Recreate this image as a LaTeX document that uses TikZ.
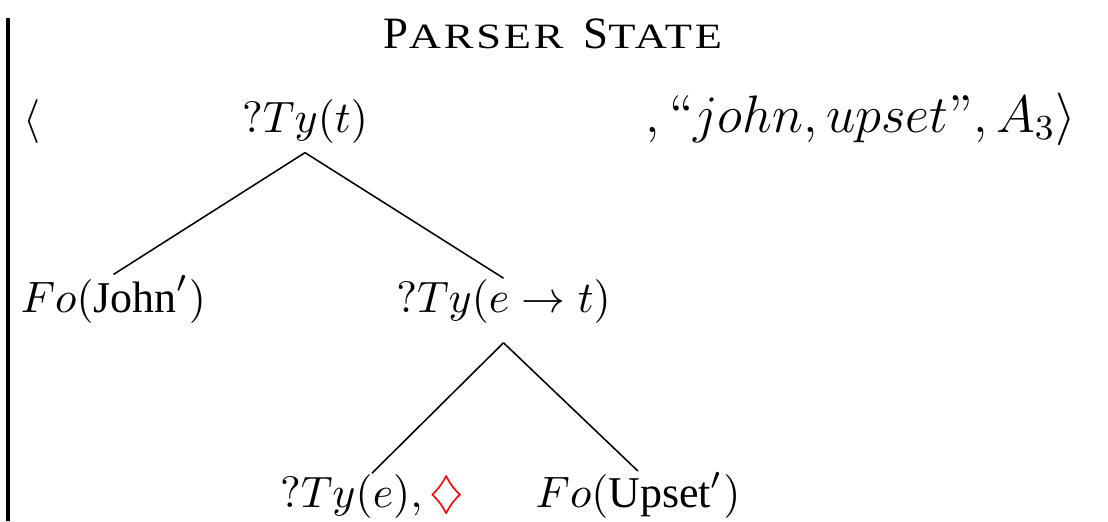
\documentclass[tikz,border=0pt]{standalone}
\usepackage[no-math]{fontspec}
\setmainfont{Liberation Serif}
\newfontfamily\tmsfont{Liberation Serif}
\newfontfamily\scfont[FakeStretch=1.25, LetterSpace=8]{Liberation Serif}
\newfontfamily\lmfont{Latin Modern Roman}
\usepackage{amsmath}
\usepackage{amssymb}
\usepackage{xcolor}
\usetikzlibrary{positioning}

\begin{document}
\begin{tikzpicture}[
  lbl/.style={inner sep=0pt, anchor=base},
  edge/.style={black, line width=0.35pt}
]
  \useasboundingbox (0,0) rectangle (8.864,4.168);

  % State bar on the left
  \draw[line width=0.7pt] (0.064,0) -- (0.064,4.024);

  % Title (small caps by hand)
  \node[lbl] (title) at (4.424,3.784)
    {{\fontsize{10.2}{12}\selectfont P}{\scfont\fontsize{8.1}{10}\selectfont ARSER}\hspace{2pt}
     {\fontsize{10.2}{12}\selectfont S}{\scfont\fontsize{8.1}{10}\selectfont TATE}};

  % The state triple
  \node[lbl] (open) at (0.256,3.112) {$\langle$};
  \node[lbl] (root) at (2.44,3.112) {$?Ty(t)$};
  \node[lbl, anchor=base west] (rest) at (5.16,3.112)
    {\fontsize{12.1}{14}\selectfont
     $,\text{\lmfont\textquotedblleft}john, upset\text{\lmfont\textquotedblright}, A_3\rangle$};

  % Tree nodes
  \node[lbl] (john) at (0.908,1.672) {$Fo(\text{\tmsfont John}')$};
  \node[lbl] (pred) at (4.028,1.672) {$?Ty(e \rightarrow t)$};
  \node[lbl] (subj) at (2.976,0.112) {$?Ty(e), {\color{red}\diamondsuit}$};
  \node[lbl] (upset) at (5.104,0.112) {$Fo(\text{\tmsfont Upset}')$};

  % Tree edges
  \draw[edge] ([yshift=-2pt]root.south) -- (john.north);
  \draw[edge] ([yshift=-2pt]root.south) -- (pred.north);
  \draw[edge] ([yshift=-4.3pt]pred.south) -- (subj.north);
  \draw[edge] ([yshift=-4.3pt]pred.south) -- (upset.north);
\end{tikzpicture}
\end{document}
